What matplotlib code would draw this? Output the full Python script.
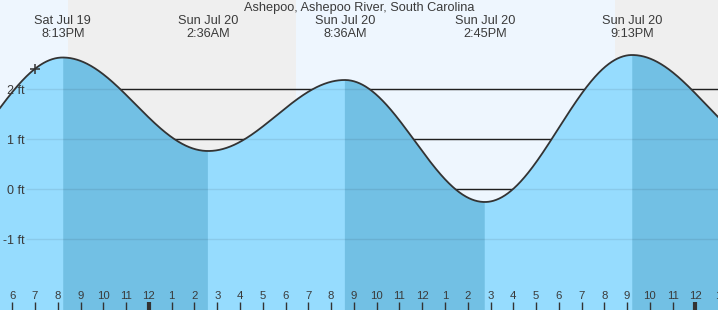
import numpy as np
import matplotlib
matplotlib.use('Agg')
from matplotlib import pyplot as plt

plt.rcParams['font.family'] = ['Liberation Sans', 'DejaVu Sans']

# hours counted from Sat Jul 19 00:00
TITLE = 'Ashepoo, Ashepoo River, South Carolina'
tide_hours = [14.0, 20.217, 26.6, 32.6, 38.75, 45.217, 51.67]
tide_feet = [0.18, 2.63, 0.76, 2.18, -0.26, 2.68, 0.72]
tide_labels = [None, 'Sat Jul 19\n8:13PM', 'Sun Jul 20\n2:36AM', 'Sun Jul 20\n8:36AM',
               'Sun Jul 20\n2:45PM', 'Sun Jul 20\n9:13PM', None]
sun_hours = [20.45, 30.46, 44.47]       # sunset, sunrise, sunset
now_hour, now_feet = 19.0, 2.4
ytick_feet = [2, 1, 0, -1]
xtick_hours = list(range(18, 50))

XLIM = (17.46, 48.99)
YLIM = (-2.42, 3.78)
TXT = '#3a3a3a'
DAY, NIGHT = '#eef6fe', '#efefef'
RISE, FALL = '#96dcfe', '#72c0e4'


def tide_curve(t, hrs, hts):
    # cosine shaped water level between successive high/low tides
    h = np.empty_like(t)
    for i in range(len(hrs) - 1):
        m = (t >= hrs[i]) & (t <= hrs[i + 1])
        f = (t[m] - hrs[i]) / (hrs[i + 1] - hrs[i])
        h[m] = hts[i] + (hts[i + 1] - hts[i]) * (1 - np.cos(np.pi * f)) / 2
    return h


def hourlabel(h):
    h12 = int(h) % 12
    return '12' if h12 == 0 else str(h12)


fig = plt.figure(figsize=(7.18, 3.10), dpi=100)
ax = fig.add_axes([0, 0, 1, 1])
ax.set_axisbelow(False)
for s in ax.spines.values():
    s.set_visible(False)

# day / night background
edges = [XLIM[0]] + sun_hours + [XLIM[1]]
for i in range(len(edges) - 1):
    ax.axvspan(edges[i], edges[i + 1], color=DAY if i % 2 == 0 else NIGHT,
               lw=0, zorder=0)

# grid lines, black over background
gx0 = XLIM[0] + 26 / 22.77
ax.hlines(ytick_feet, gx0, XLIM[1], colors='#222222', lw=1, zorder=1)

t = np.linspace(XLIM[0], XLIM[1], 1500)
h = tide_curve(t, tide_hours, tide_feet)
falling = np.zeros_like(t, dtype=bool)
for i in range(len(tide_hours) - 1):
    if tide_feet[i + 1] < tide_feet[i]:
        falling |= (t >= tide_hours[i]) & (t <= tide_hours[i + 1])
ax.fill_between(t, YLIM[0], h, color=RISE, lw=0, zorder=2)
ax.fill_between(t, YLIM[0], h, where=falling, color=FALL, lw=0, zorder=2)
ax.hlines(ytick_feet, gx0, XLIM[1], colors='black', lw=1, alpha=0.08, zorder=3)
ax.plot(t, h, color='#333333', lw=1.3, zorder=4)
ax.plot([now_hour], [now_feet], marker='+', ms=7, mew=1.1, color='#333333', zorder=5)

for f in ytick_feet:
    ax.text(gx0 - 0.08, f - 0.035, '%d ft' % f, ha='right', va='center',
            fontsize=9, color=TXT, zorder=6)

ax.text(0.5, 1 - 7.5 / 310, TITLE, transform=ax.transAxes, ha='center',
        va='center', fontsize=9.2, color=TXT)
for hr, lab in zip(tide_hours, tide_labels):
    if lab is None:
        continue
    ax.text(hr, YLIM[1] - 14.5 / 50, lab, ha='center', va='top', fontsize=9.2,
            color=TXT, linespacing=1.15)

# hour ticks along the bottom
ax.set_yticks([])
ax.set_xticks(xtick_hours)
ax.set_xticklabels([])
ax.tick_params(axis='x', direction='in', length=5.8, width=1, color='#333333')
for tk, hr in zip(ax.xaxis.get_major_ticks(), xtick_hours):
    if hr % 24 == 0:
        tk.tick1line.set_markeredgewidth(3)
    ax.text(hr, 14 / 310, hourlabel(hr), transform=ax.get_xaxis_transform(),
            ha='center', va='center', fontsize=8.2, color=TXT)

ax.set_xlim(*XLIM)
ax.set_ylim(*YLIM)
fig.savefig('out.png', dpi=100)
